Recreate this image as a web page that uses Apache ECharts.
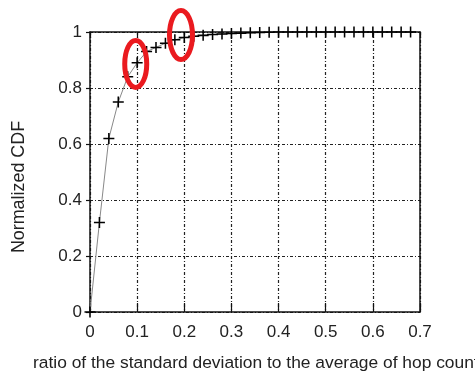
<!DOCTYPE html>
<html>
<head>
<meta charset="utf-8">
<script src="https://cdn.jsdelivr.net/npm/echarts@6/dist/echarts.min.js"></script>
<style>
html,body{margin:0;padding:0;background:#fff;}
#c{width:475px;height:374px;}
</style>
</head>
<body>
<div id="c"></div>
<script>
// ---- data ----
var xValues = [0, 0.02, 0.04, 0.06, 0.08, 0.10, 0.12, 0.14, 0.16, 0.18,
               0.20, 0.22, 0.24, 0.26, 0.28, 0.30, 0.32, 0.34, 0.36, 0.38,
               0.40, 0.42, 0.44, 0.46, 0.48, 0.50, 0.52, 0.54, 0.56, 0.58,
               0.60, 0.62, 0.64, 0.66, 0.68];
var cdfValues = [0, 0.32, 0.62, 0.75, 0.84, 0.89, 0.93, 0.945, 0.96, 0.972,
                 0.98, 0.985, 0.988, 0.991, 0.993, 0.995, 0.996, 0.997, 0.998, 0.999,
                 1, 1, 1, 1, 1, 1, 1, 1, 1, 1,
                 1, 1, 1, 1, 1];
var xTicks = [0, 0.1, 0.2, 0.3, 0.4, 0.5, 0.6, 0.7];
var yTicks = [0, 0.2, 0.4, 0.6, 0.8, 1];
// highlighted points (red ellipses), data coordinates of centres
var highlights = [[0.097, 0.886], [0.193, 0.989]];

var xTitle = 'ratio of the standard deviation to the average of hop count';
var yTitle = 'Normalized CDF';

var FONT = '"Liberation Sans", Arial, sans-serif';

var chart = echarts.init(document.getElementById('c'), null, {renderer: 'canvas'});

var gridLine = {show: true, lineStyle: {color: '#222', width: 1.2, type: [3, 2, 1, 2]}};
var plusPath = 'path://M0,4.3H10V5.7H0Z M4.3,0H5.7V10H4.3Z';

var data = xValues.map(function (x, i) { return [x, cdfValues[i]]; });

chart.setOption({
  animation: false,
  backgroundColor: '#fff',
  grid: {left: 90, top: 32, width: 330, height: 280, containLabel: false},
  xAxis: [{
    type: 'value', min: 0, max: 0.7, interval: 0.1,
    axisLine: {show: true, onZero: false, lineStyle: {color: '#111', width: 1.5}},
    axisTick: {show: true, inside: true, length: 9, lineStyle: {color: '#111', width: 1.2}},
    axisLabel: {
      color: '#222', fontFamily: FONT, fontSize: 17, margin: 12,
      formatter: function (v) {
        for (var i = 0; i < xTicks.length; i++) if (Math.abs(xTicks[i] - v) < 1e-9) return String(xTicks[i]);
        return '';
      }
    },
    splitLine: gridLine
  }, {
    type: 'value', min: 0, max: 0.7, interval: 0.1, position: 'top',
    axisLine: {show: true, onZero: false, lineStyle: {color: '#111', width: 1.5}},
    axisTick: {show: true, inside: true, length: 6, lineStyle: {color: '#111', width: 1.2}},
    axisLabel: {show: false}, splitLine: {show: false}
  }],
  yAxis: [{
    type: 'value', min: 0, max: 1, interval: 0.2,
    axisLine: {show: true, onZero: false, lineStyle: {color: '#111', width: 1.5}},
    axisTick: {show: true, inside: false, length: 4, lineStyle: {color: '#111', width: 1.2}},
    axisLabel: {
      color: '#222', fontFamily: FONT, fontSize: 17, margin: 8,
      formatter: function (v) {
        for (var i = 0; i < yTicks.length; i++) if (Math.abs(yTicks[i] - v) < 1e-9) return String(yTicks[i]);
        return '';
      }
    },
    splitLine: gridLine
  }, {
    type: 'value', min: 0, max: 1, interval: 0.2, position: 'right',
    axisLine: {show: true, onZero: false, lineStyle: {color: '#111', width: 1.5}},
    axisTick: {show: false}, axisLabel: {show: false}, splitLine: {show: false}
  }],
  series: [{
    type: 'line',
    data: data,
    symbol: plusPath,
    symbolSize: 11,
    showAllSymbol: true,
    lineStyle: {color: '#888', width: 1},
    itemStyle: {color: '#000'},
    z: 5
  }]
});

var ellipses = highlights.map(function (h, i) {
  var p = chart.convertToPixel({gridIndex: 0}, h);
  return {
    type: 'ellipse', z: 100,
    shape: {cx: p[0], cy: p[1], rx: i === 0 ? 11 : 11.5, ry: i === 0 ? 23.5 : 24.5},
    style: {fill: 'none', stroke: '#ea1a1f', lineWidth: 5}
  };
});

chart.setOption({
  graphic: ellipses.concat([
    {type: 'text', left: 33, top: 355, z: 50,
     style: {text: xTitle, fontFamily: FONT, fontSize: 17.4, fill: '#222'}},
    {type: 'text', rotation: Math.PI / 2, x: 19, y: 187, z: 50,
     style: {text: yTitle, fontFamily: FONT, fontSize: 17.9, fill: '#222', align: 'center', verticalAlign: 'middle'}}
  ])
});
</script>
</body>
</html>
